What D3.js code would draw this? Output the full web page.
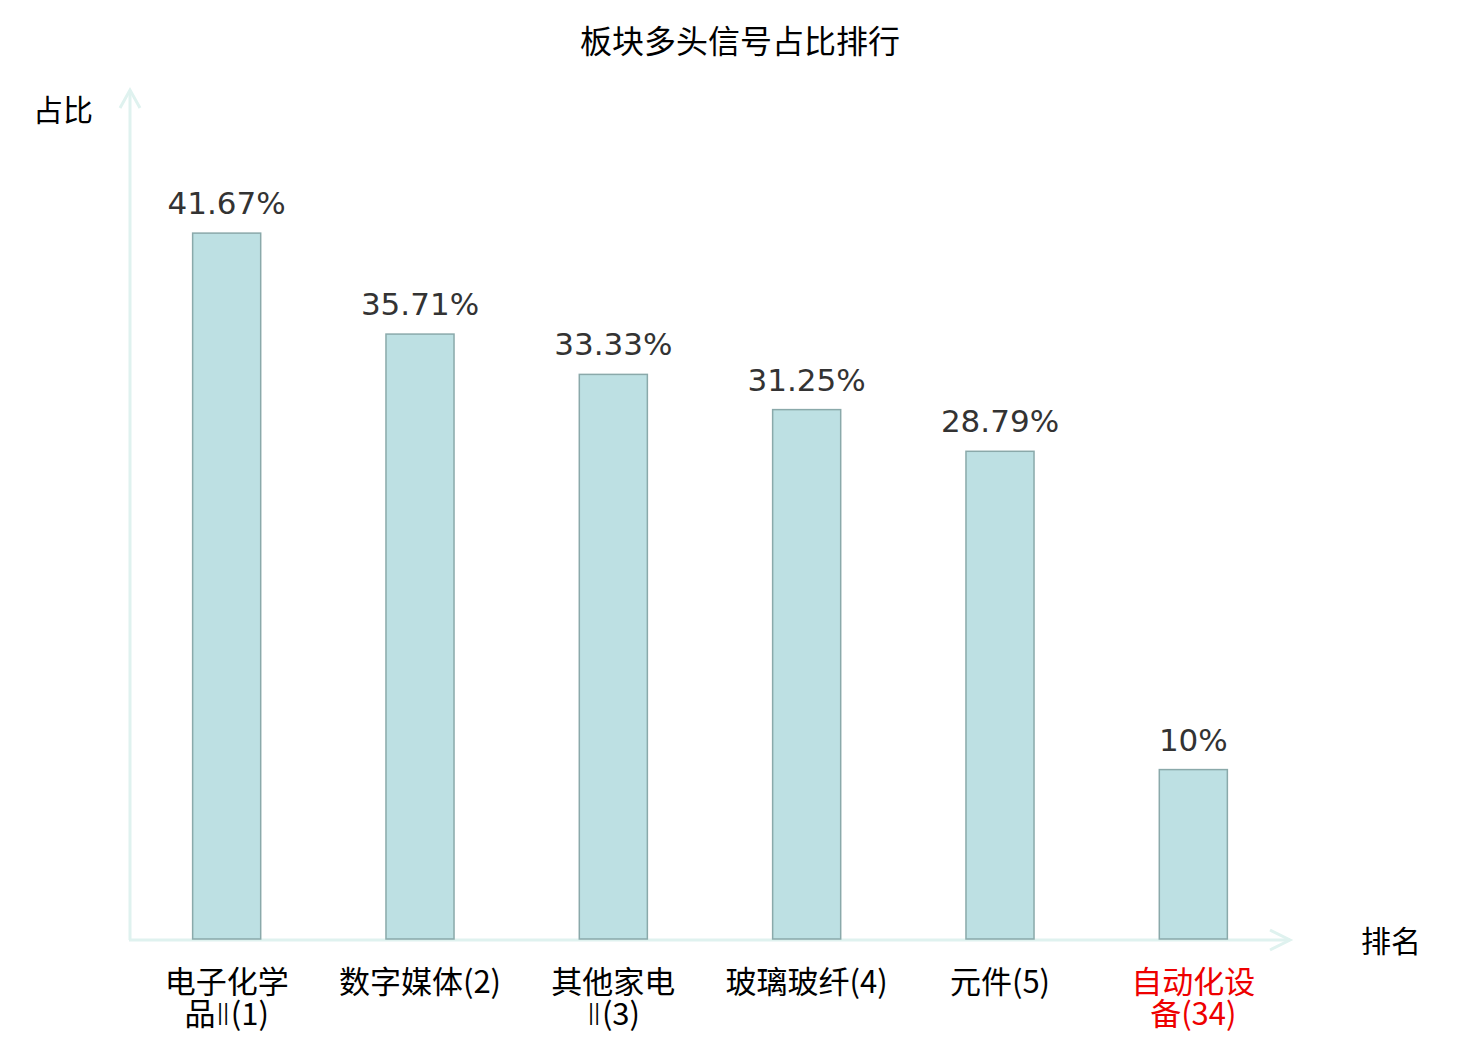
<!DOCTYPE html>
<html><head><meta charset="utf-8">
<script src="https://cdn.jsdelivr.net/npm/d3@7"></script>
<style>html,body{margin:0;padding:0;background:#fff;}</style>
</head><body>
<svg id="chart" width="1480" height="1040"></svg>
<script>
const categories = ["电子化学品Ⅱ(1)", "数字媒体(2)", "其他家电Ⅱ(3)", "玻璃玻纤(4)", "元件(5)", "自动化设备(34)"];
const labelLines = [["电子化学", "品Ⅱ(1)"], ["数字媒体(2)"], ["其他家电", "Ⅱ(3)"], ["玻璃玻纤(4)"], ["元件(5)"], ["自动化设", "备(34)"]];
const values = [41.67, 35.71, 33.33, 31.25, 28.79, 10];
const valueLabels = ["41.67%", "35.71%", "33.33%", "31.25%", "28.79%", "10%"];
const highlighted = [false, false, false, false, false, true];
const title = "板块多头信号占比排行";
const yName = "占比";
const xName = "排名";

const svg = d3.select("#chart");
const x0 = 130, x1 = 1290, yBase = 939, yTop = 92;
const x = d3.scaleBand().domain(categories).range([x0, x1]).paddingInner(0.648).paddingOuter(0.324);
const y = d3.scaleLinear().domain([0, 50]).range([yBase, yTop]);

const cjk = "'Noto Sans CJK SC', 'DejaVu Sans', sans-serif";
const num = "'DejaVu Sans', 'Noto Sans CJK SC', sans-serif";

svg.append("text").attr("x", 740).attr("y", 53).attr("text-anchor", "middle")
  .attr("font-family", cjk).attr("font-size", 32).attr("fill", "#000").text(title);

// axes
const axisColor = "#dff2ef";
svg.append("line").attr("x1", x0).attr("x2", x0).attr("y1", yBase + 1).attr("y2", 90)
  .attr("stroke", axisColor).attr("stroke-width", 3);
svg.append("path").attr("d", `M${x0-10},${108} L${x0},${90} L${x0+10},${108}`)
  .attr("fill", "none").attr("stroke", axisColor).attr("stroke-width", 3);
svg.append("line").attr("x1", x0 - 1).attr("x2", x1).attr("y1", yBase + 1).attr("y2", yBase + 1)
  .attr("stroke", axisColor).attr("stroke-width", 3);
svg.append("path").attr("d", `M${x1-20},${yBase-9} L${x1},${yBase+1} L${x1-20},${yBase+11}`)
  .attr("fill", "none").attr("stroke", axisColor).attr("stroke-width", 3);

svg.append("text").attr("x", 63).attr("y", 121).attr("text-anchor", "middle")
  .attr("font-family", cjk).attr("font-size", 30).attr("fill", "#000").text(yName);
svg.append("text").attr("x", 1391).attr("y", 952).attr("text-anchor", "middle")
  .attr("font-family", cjk).attr("font-size", 30).attr("fill", "#000").text(xName);

// bars
svg.selectAll("rect.bar").data(values).join("rect").attr("class", "bar")
  .attr("x", (d, i) => x(categories[i]))
  .attr("y", d => y(d))
  .attr("width", x.bandwidth())
  .attr("height", d => y(0) - y(d))
  .attr("fill", "#bde0e3").attr("stroke", "#8aa9aa").attr("stroke-width", 1.5);

svg.selectAll("text.val").data(values).join("text").attr("class", "val")
  .attr("x", (d, i) => x(categories[i]) + x.bandwidth() / 2)
  .attr("y", d => y(d) - 19)
  .attr("text-anchor", "middle").attr("font-family", num).attr("font-size", 31)
  .attr("fill", "#333").text((d, i) => valueLabels[i]);

// x labels
const g = svg.selectAll("text.xl").data(categories).join("text").attr("class", "xl")
  .attr("text-anchor", "middle").attr("font-family", cjk).attr("font-size", 31)
  .attr("fill", (d, i) => highlighted[i] ? "#ee0000" : "#000");
g.each(function(d, i) {
  const t = d3.select(this);
  const cx = x(d) + x.bandwidth() / 2;
  labelLines[i].forEach((ln, j) => {
    const parts = ln.split(/(Ⅱ)/).filter(p => p.length);
    parts.forEach((p, k) => {
      const ts = t.append("tspan").text(p);
      if (k === 0) ts.attr("x", cx).attr("y", 993 + j * 32);
      if (p === "Ⅱ") ts.attr("font-family", "'DejaVu Sans', sans-serif").attr("font-weight", 300);
    });
  });
});
</script>
</body></html>
